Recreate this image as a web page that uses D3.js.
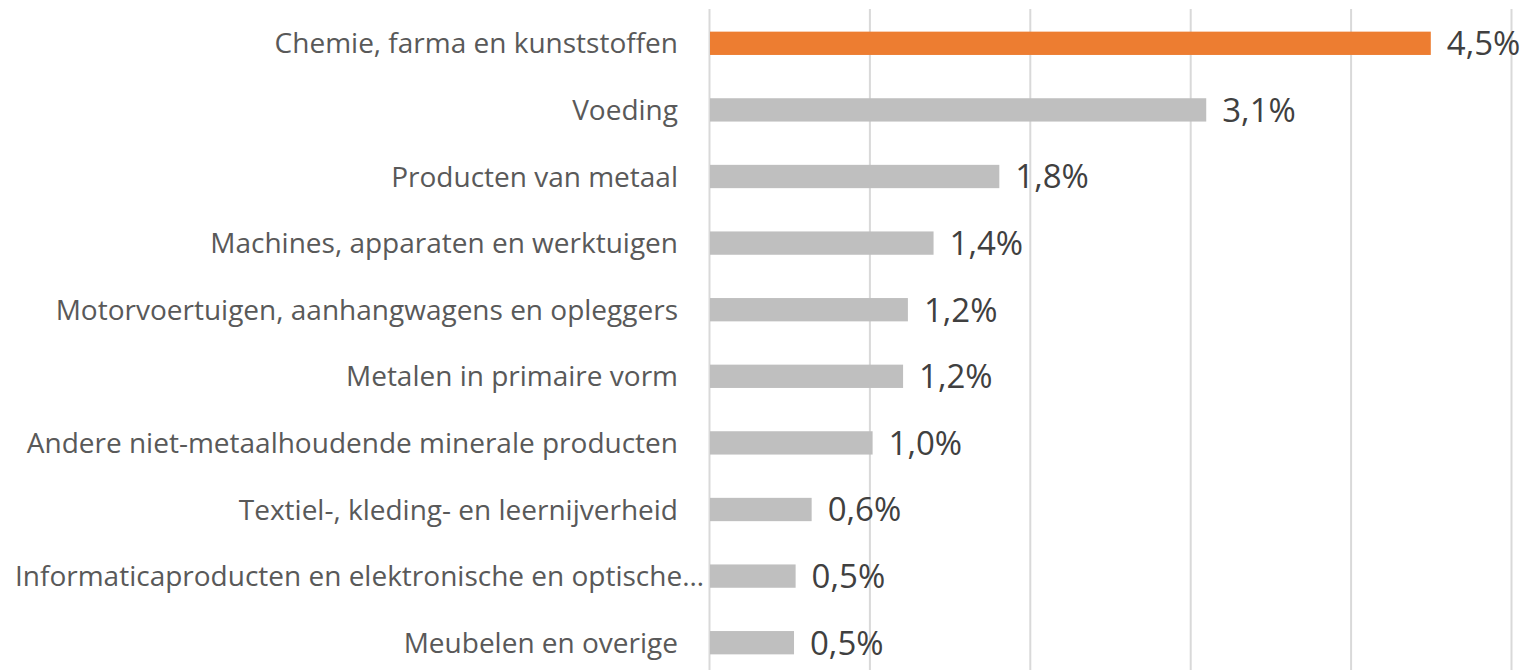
<!DOCTYPE html>
<html>
<head>
<meta charset="utf-8">
<script src="https://cdn.jsdelivr.net/npm/d3@7"></script>
<style>
  body { margin: 0; background: #fff; }
</style>
</head>
<body>
<svg id="chart" width="1535" height="670"></svg>
<script>
    // data
    var categories = [
        "Chemie, farma en kunststoffen",
        "Voeding",
        "Producten van metaal",
        "Machines, apparaten en werktuigen",
        "Motorvoertuigen, aanhangwagens en opleggers",
        "Metalen in primaire vorm",
        "Andere niet-metaalhoudende minerale producten",
        "Textiel-, kleding- en leernijverheid",
        "Informaticaproducten en elektronische en optische…",
        "Meubelen en overige"
    ];
    var values = [4.5, 3.1, 1.81, 1.4, 1.24, 1.21, 1.02, 0.64, 0.54, 0.53];
    var highlight = "Chemie, farma en kunststoffen";
    var xTicks = [0, 1, 2, 3, 4, 5];

    var data = categories.map(function(c, i) { return {cat: c, value: values[i]}; });

    var margin = {top: 10, right: 24, bottom: -6, left: 709};
    var W = 1535, H = 670;
    var w = W - margin.left - margin.right;
    var h = H - margin.top - margin.bottom;

    var svg = d3.select("#chart")
                .append("g")
                .attr("transform", "translate(" + margin.left + "," + margin.top + ")");

    // scales
    var xScale = d3.scaleLinear()
                   .domain([0, 5])
                   .range([0, w]);

    var yScale = d3.scaleBand()
                   .domain(categories)
                   .range([0, h])
                   .paddingInner(0.65)
                   .paddingOuter(0.325);

    // gridlines (no tick labels in the original)
    var xAxis = d3.axisTop(xScale)
                  .tickValues(xTicks)
                  .tickSize(-(H - margin.top + 1))
                  .tickFormat("");

    svg.append("g")
       .attr("class", "x axis")
       .attr("transform", "translate(0,-1)")
       .call(xAxis)
       .call(function(g) { g.select(".domain").remove(); })
       .selectAll("line")
       .attr("stroke", "#d9d9d9")
       .attr("stroke-width", 2);

    // bars
    svg.append("g")
       .selectAll("rect")
       .data(data)
       .enter()
       .append("rect")
       .attr("x", xScale(0) + 1)
       .attr("y", function(d) { return yScale(d.cat); })
       .attr("width", function(d) { return xScale(d.value) - xScale(0) - 1; })
       .attr("height", yScale.bandwidth())
       .attr("fill", function(d) { return d.cat === highlight ? "#ed7d31" : "#bfbfbf"; });

    // value labels
    var fmt = function(v) { return d3.format(".1f")(v).replace(".", ",") + "%"; };

    svg.append("g")
       .selectAll("text")
       .data(data)
       .enter()
       .append("text")
       .attr("x", function(d) { return xScale(d.value) + 16; })
       .attr("y", function(d) { return yScale(d.cat) + yScale.bandwidth() / 2; })
       .attr("dy", "0.36em")
       .attr("font-family", "'Open Sans', sans-serif")
       .attr("font-size", "33px")
       .attr("fill", "#404040")
       .text(function(d) { return fmt(d.value); });

    // category labels
    var labelGap = 31;
    var labels = svg.append("g")
       .selectAll("text")
       .data(data)
       .enter()
       .append("text")
       .attr("x", -labelGap)
       .attr("y", function(d) { return yScale(d.cat) + yScale.bandwidth() / 2; })
       .attr("dy", "0.36em")
       .style("text-anchor", "end")
       .attr("font-family", "'Open Sans', sans-serif")
       .attr("font-size", "28px")
       .attr("fill", "#595959")
       .text(function(d) { return d.cat; });

    // a label too long for the space is started at the left edge instead (like Excel does)
    labels.each(function() {
        var len = this.getComputedTextLength();
        if (len > margin.left - labelGap - 15) {
            d3.select(this)
              .style("text-anchor", "start")
              .attr("x", 15 - margin.left);
        }
    });
</script>
</body>
</html>
